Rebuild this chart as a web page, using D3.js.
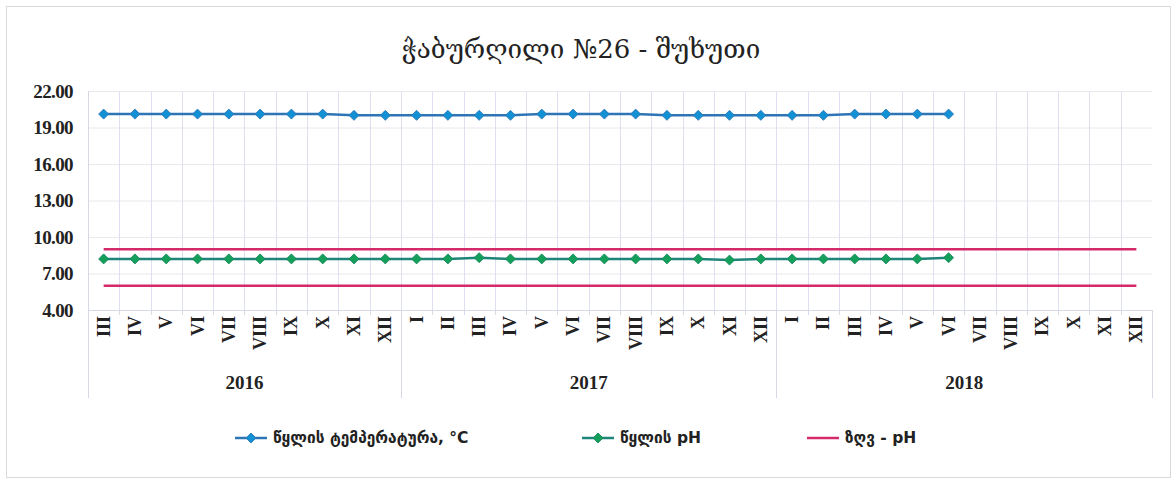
<!DOCTYPE html>
<html>
<head>
<meta charset="utf-8">
<script src="https://cdn.jsdelivr.net/npm/d3@7"></script>
<style>
  html, body { margin: 0; padding: 0; background: #fff; }
  svg { display: block; }
</style>
</head>
<body>
<svg id="chart" width="1174" height="480"></svg>
<script>
// Monitoring well data: months from 2016-III to 2018-XII
const years = ["2016", "2017", "2018"];
const months2016 = ["III","IV","V","VI","VII","VIII","IX","X","XI","XII"];
const months2017 = ["I","II","III","IV","V","VI","VII","VIII","IX","X","XI","XII"];
const months2018 = ["I","II","III","IV","V","VI","VII","VIII","IX","X","XI","XII"];

// Water temperature, °C
const temperature = [
  20.1, 20.1, 20.1, 20.1, 20.1, 20.1, 20.1, 20.1, 20.0, 20.0,
  20.0, 20.0, 20.0, 20.0, 20.1, 20.1, 20.1, 20.1, 20.0, 20.0, 20.0, 20.0,
  20.0, 20.0, 20.1, 20.1, 20.1, 20.1
];
// Water pH
const ph = [
  8.2, 8.2, 8.2, 8.2, 8.2, 8.2, 8.2, 8.2, 8.2, 8.2,
  8.2, 8.2, 8.3, 8.2, 8.2, 8.2, 8.2, 8.2, 8.2, 8.2, 8.1, 8.2,
  8.2, 8.2, 8.2, 8.2, 8.2, 8.3
];
// Permissible pH limits (lower / upper)
const phLimitLow = 6.0;
const phLimitHigh = 9.0;

const yTicks = [4, 7, 10, 13, 16, 19, 22];

const titleText = "ჭაბურღილი №26 - შუხუთი";
const legendLabels = ["წყლის ტემპერატურა, °C", "წყლის pH", "ზღვ - pH"];

// Flattened category list
const monthGroups = [months2016, months2017, months2018];
const categories = [];
monthGroups.forEach((ms, yi) => ms.forEach(m => categories.push({ year: years[yi], month: m })));
const idx = categories.map((d, i) => i);

const svg = d3.select("#chart");
const W = 1174, H = 480;
const plot = { left: 88, right: 1152, top: 91, bottom: 310 };

const colors = {
  tempLine: "#2e75b6", tempMarker: "#1290d4",
  phLine: "#1f857a", phMarker: "#14a05a", phMarkerStroke: "#17875c",
  limit: "#d42a6a",
  gridH: "#e8e8ee", gridV: "#dfdff2", axis: "#d6d8e6"
};

// Outer chart frame
svg.append("rect")
  .attr("x", 6.5).attr("y", 6.5).attr("width", W - 10).attr("height", H - 9)
  .attr("fill", "#fff").attr("stroke", "#d9d9d9");

const x = d3.scaleBand().domain(idx).range([plot.left, plot.right]).padding(0);
const y = d3.scaleLinear().domain([4, 22]).range([plot.bottom, plot.top]);
const cx = i => x(i) + x.bandwidth() / 2;

// Title
svg.append("text")
  .attr("x", 581).attr("y", 58)
  .attr("text-anchor", "middle")
  .style("font-family", "'DejaVu Serif', 'DejaVu Sans', serif")
  .style("font-size", "26px")
  .style("fill", "#222")
  .text(titleText);

// Horizontal gridlines
svg.append("g").selectAll("line").data(yTicks).join("line")
  .attr("x1", plot.left).attr("x2", plot.right)
  .attr("y1", d => y(d) + 0.5).attr("y2", d => y(d) + 0.5)
  .attr("stroke", d => d === 4 ? colors.axis : colors.gridH)
  .attr("stroke-width", 1);

// Vertical gridlines at category boundaries
svg.append("g").selectAll("line").data(idx.slice(1)).join("line")
  .attr("x1", d => Math.round(x(d)) + 0.5).attr("x2", d => Math.round(x(d)) + 0.5)
  .attr("y1", plot.top).attr("y2", plot.bottom)
  .attr("stroke", colors.gridV).attr("stroke-width", 1);

// Y axis labels
const yAxis = d3.axisLeft(y).tickValues(yTicks).tickFormat(d3.format(".2f")).tickSize(0).tickPadding(15);
const gy = svg.append("g").attr("transform", `translate(${plot.left},0)`).call(yAxis);
gy.select(".domain").remove();
gy.selectAll("text")
  .style("font-family", "'Liberation Serif', serif")
  .style("font-size", "19px").style("font-weight", "bold")
  .style("letter-spacing", "-0.6px")
  .attr("fill", "#222");

// Plot left edge and category axis boundary lines
const axisBottom = 398;
svg.append("line")
  .attr("x1", plot.left + 0.5).attr("x2", plot.left + 0.5)
  .attr("y1", plot.top).attr("y2", axisBottom)
  .attr("stroke", colors.axis);
svg.append("line")
  .attr("x1", plot.right + 0.5).attr("x2", plot.right + 0.5)
  .attr("y1", plot.bottom).attr("y2", axisBottom)
  .attr("stroke", colors.axis);

// Month ticks below axis
svg.append("g").selectAll("line").data(idx.slice(1)).join("line")
  .attr("x1", d => Math.round(x(d)) + 0.5).attr("x2", d => Math.round(x(d)) + 0.5)
  .attr("y1", plot.bottom).attr("y2", plot.bottom + 5)
  .attr("stroke", colors.axis);

// Year boundaries
let start = 0;
const yearSpans = monthGroups.map((ms, yi) => {
  const s = { year: years[yi], first: start, last: start + ms.length - 1 };
  start += ms.length;
  return s;
});
svg.append("g").selectAll("line").data(yearSpans.slice(1)).join("line")
  .attr("x1", d => Math.round(x(d.first)) + 0.5).attr("x2", d => Math.round(x(d.first)) + 0.5)
  .attr("y1", plot.bottom).attr("y2", axisBottom)
  .attr("stroke", colors.axis);

// Month labels (rotated)
svg.append("g").selectAll("text").data(categories).join("text")
  .attr("transform", (d, i) => `translate(${cx(i) + 6},${plot.bottom + 6}) rotate(-90)`)
  .attr("text-anchor", "end")
  .style("font-family", "'Liberation Serif', serif")
  .style("font-size", "18px").style("font-weight", "bold")
  .attr("fill", "#222")
  .text(d => d.month);

// Year labels
svg.append("g").selectAll("text").data(yearSpans).join("text")
  .attr("x", d => (x(d.first) + x(d.last) + x.bandwidth()) / 2)
  .attr("y", 389)
  .attr("text-anchor", "middle")
  .style("font-family", "'Liberation Serif', serif")
  .style("font-size", "19px").style("font-weight", "bold")
  .attr("fill", "#222")
  .text(d => d.year);

// pH limit lines
[phLimitLow, phLimitHigh].forEach(v => {
  svg.append("line")
    .attr("x1", cx(0)).attr("x2", cx(idx.length - 1))
    .attr("y1", y(v)).attr("y2", y(v))
    .attr("stroke", colors.limit).attr("stroke-width", 2.5);
});

const diamond = d3.symbol().type(d3.symbolSquare).size(50);

function drawSeries(values, lineColor, fill, stroke) {
  const line = d3.line().x((d, i) => cx(i)).y(d => y(d));
  svg.append("path").datum(values)
    .attr("d", line).attr("fill", "none")
    .attr("stroke", lineColor).attr("stroke-width", 2.5);
  svg.append("g").selectAll("path").data(values).join("path")
    .attr("d", diamond)
    .attr("transform", (d, i) => `translate(${cx(i)},${y(d)}) rotate(45)`)
    .attr("fill", fill).attr("stroke", stroke).attr("stroke-width", 0.8);
}
drawSeries(temperature, colors.tempLine, colors.tempMarker, colors.tempLine);
drawSeries(ph, colors.phLine, colors.phMarker, colors.phMarkerStroke);

// Legend
const legendY = 438;
const legendItems = [
  { x: 235, label: legendLabels[0], line: colors.tempLine, fill: colors.tempMarker, stroke: colors.tempLine, marker: true },
  { x: 582, label: legendLabels[1], line: colors.phLine, fill: colors.phMarker, stroke: colors.phMarkerStroke, marker: true },
  { x: 807, label: legendLabels[2], line: colors.limit, marker: false }
];
const lg = svg.append("g").selectAll("g").data(legendItems).join("g")
  .attr("transform", d => `translate(${d.x},${legendY})`);
lg.append("line").attr("x1", 0).attr("x2", 32).attr("y1", 0).attr("y2", 0)
  .attr("stroke", d => d.line).attr("stroke-width", 2.5);
lg.filter(d => d.marker).append("path")
  .attr("d", diamond)
  .attr("transform", "translate(16,0) rotate(45)")
  .attr("fill", d => d.fill).attr("stroke", d => d.stroke).attr("stroke-width", 0.8);
lg.append("text")
  .attr("x", 38).attr("y", 5)
  .style("font-family", "'DejaVu Sans', sans-serif")
  .style("font-size", "15.5px")
  .style("font-weight", "bold")
  .attr("fill", "#222")
  .text(d => d.label);
</script>
</body>
</html>
